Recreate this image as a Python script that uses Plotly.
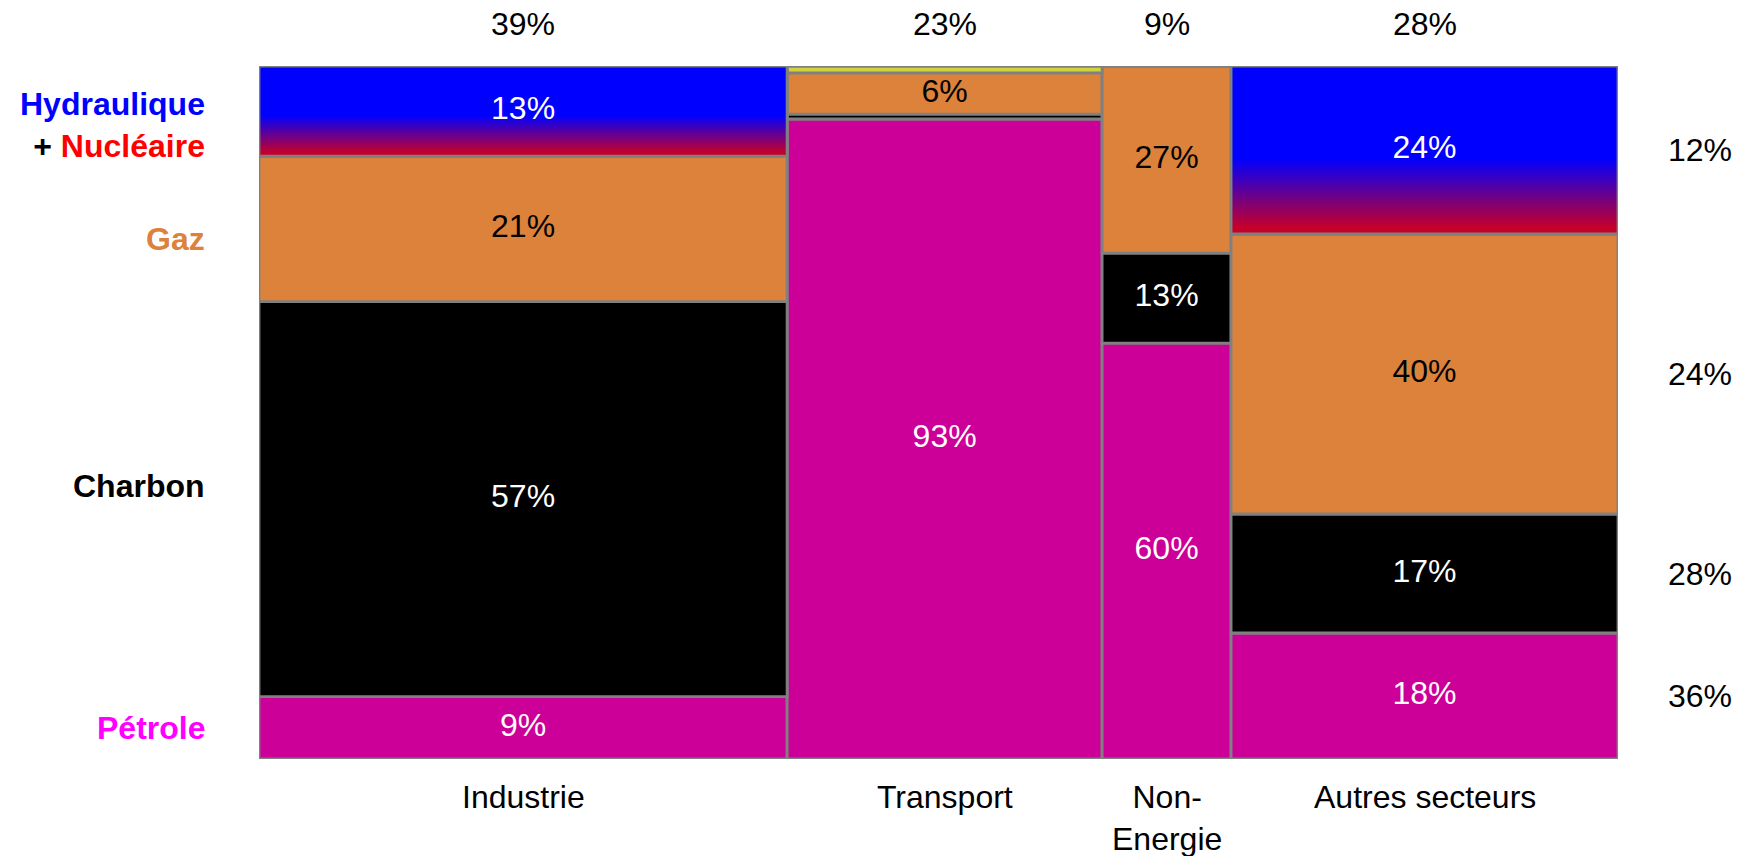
import plotly.graph_objects as go
import numpy as np

# ---- data -----------------------------------------------------------------
sectors = ["Industrie", "Transport", "Non-<br>Energie", "Autres secteurs"]
sector_share = [38.9, 23.2, 9.5, 28.5]          # width of each column (share of final consumption)
sector_share_labels = ["39%", "23%", "9%", "28%"]

# fuel mix inside each sector (% of the sector), listed bottom -> top
petrole = [9, 93, 60, 18]
charbon = [57, 0.7, 13, 17]
gaz = [21, 6, 27, 40]
autres = [0, 1, 0, 0]
hydro_nuc = [13, 0, 0, 24]

# overall share of each fuel (right-hand labels): pétrole, charbon, gaz, hydro+nucléaire
fuel_total_share = [36, 28, 24, 12]

# ---- styles ---------------------------------------------------------------
FONT = "Liberation Sans, Arial, sans-serif"
FS = 32
BORDER = "#808080"
series = [
    ("Pétrole", petrole, "#cc0099", "white"),
    ("Charbon", charbon, "#000000", "white"),
    ("Gaz", gaz, "#dd823b", "black"),
    ("Autres", autres, "#d2d23c", "black"),
    ("Hydraulique + Nucléaire", hydro_nuc, "#0000ff", "white"),
]

widths = np.array(sector_share, dtype=float)
lefts = np.concatenate([[0], np.cumsum(widths)[:-1]])
centers = lefts + widths / 2
total_w = widths.sum()

col_tot = np.sum([np.array(s[1], dtype=float) for s in series], axis=0)

fig = go.Figure()
base = np.zeros(len(sectors))
cells = {}
for name, vals, color, tcolor in series:
    v = np.array(vals, dtype=float)
    h = v / col_tot * 100
    fig.add_trace(go.Bar(
        x=centers, y=h, width=widths, base=base.copy(), name=name,
        marker=dict(color=color, line=dict(color=BORDER, width=2.8)),
        hoverinfo="skip", showlegend=False,
    ))
    cells[name] = (base.copy(), h.copy(), v)
    base = base + h

# gradient overlay for Hydraulique + Nucléaire cells
b, h, v = cells["Hydraulique + Nucléaire"]
for i in range(len(sectors)):
    if v[i] <= 0:
        continue
    l, r = lefts[i], lefts[i] + widths[i]
    y0, y1 = b[i], b[i] + h[i]
    fig.add_trace(go.Scatter(
        x=[l, r, r, l, l], y=[y0, y0, y1, y1, y0], mode="lines",
        fill="toself",
        fillgradient=dict(type="vertical",
                          colorscale=[[0, "#cc0022"], [0.05, "#c00030"],
                                      [0.45, "#0000ff"], [1, "#0000ff"]]),
        line=dict(color=BORDER, width=2.8),
        hoverinfo="skip", showlegend=False,
    ))

# cell labels
for name, vals, color, tcolor in series:
    b, h, v = cells[name]
    txt = [f"{x:.0f}%" if x >= 5 else "" for x in v]
    fig.add_trace(go.Scatter(
        x=centers, y=b + h / 2, mode="text", text=txt,
        textfont=dict(family=FONT, size=FS, color=tcolor),
        hoverinfo="skip", showlegend=False,
    ))

ann = []
# top share labels and category labels
for i in range(len(sectors)):
    ann.append(dict(x=centers[i], y=100, xref="x", yref="y", text=sector_share_labels[i],
                    showarrow=False, yanchor="middle", yshift=42,
                    font=dict(family=FONT, size=FS, color="black")))
    ann.append(dict(x=centers[i], y=0, xref="x", yref="y", text=sectors[i],
                    showarrow=False, yanchor="top", yshift=-18,
                    font=dict(family=FONT, size=FS, color="black")))

# right-hand totals, aligned to the last column's cells
last = len(sectors) - 1
right_series = ["Pétrole", "Charbon", "Gaz", "Hydraulique + Nucléaire"]
for name, tot in zip(right_series, fuel_total_share):
    b, h, v = cells[name]
    ann.append(dict(x=total_w, y=b[last] + h[last] / 2, xref="x", yref="y",
                    text=f"{tot}%", showarrow=False, xanchor="center", xshift=82,
                    font=dict(family=FONT, size=FS, color="black")))

# left-hand fuel names, aligned to the first column's cells
left_labels = [
    ("Pétrole", "<b>Pétrole</b>", "#ff00ff", 0),
    ("Charbon", "<b>Charbon</b>", "black", 13),
    ("Gaz", "<b>Gaz</b>", "#dd823b", -10),
    ("Hydraulique + Nucléaire",
     "<b><span style='color:#0000ff'>Hydraulique</span><br>"
     "<span style='color:#000000'>+ </span><span style='color:#ff0000'>Nucléaire</span></b>",
     "black", -14),
]
for name, text, color, ys in left_labels:
    b, h, v = cells[name]
    ann.append(dict(x=0, y=b[0] + h[0] / 2, xref="x", yref="y", text=text,
                    showarrow=False, xanchor="right", align="right", xshift=-52, yshift=ys,
                    font=dict(family=FONT, size=FS, color=color)))

fig.update_layout(
    width=1741, height=856,
    margin=dict(l=259, r=123, t=66, b=97),
    barmode="overlay",
    plot_bgcolor="white", paper_bgcolor="white",
    xaxis=dict(range=[0, total_w], visible=False, fixedrange=True),
    yaxis=dict(range=[0, 100], visible=False, fixedrange=True),
    annotations=ann,
    font=dict(family=FONT),
)

# remove the default page margin so the figure fills the 1741x856 window exactly
fig.write_html(
    "out.html",
    config={"displayModeBar": False},
    post_script="document.body.style.margin='0px';document.body.style.overflow='hidden';",
)
